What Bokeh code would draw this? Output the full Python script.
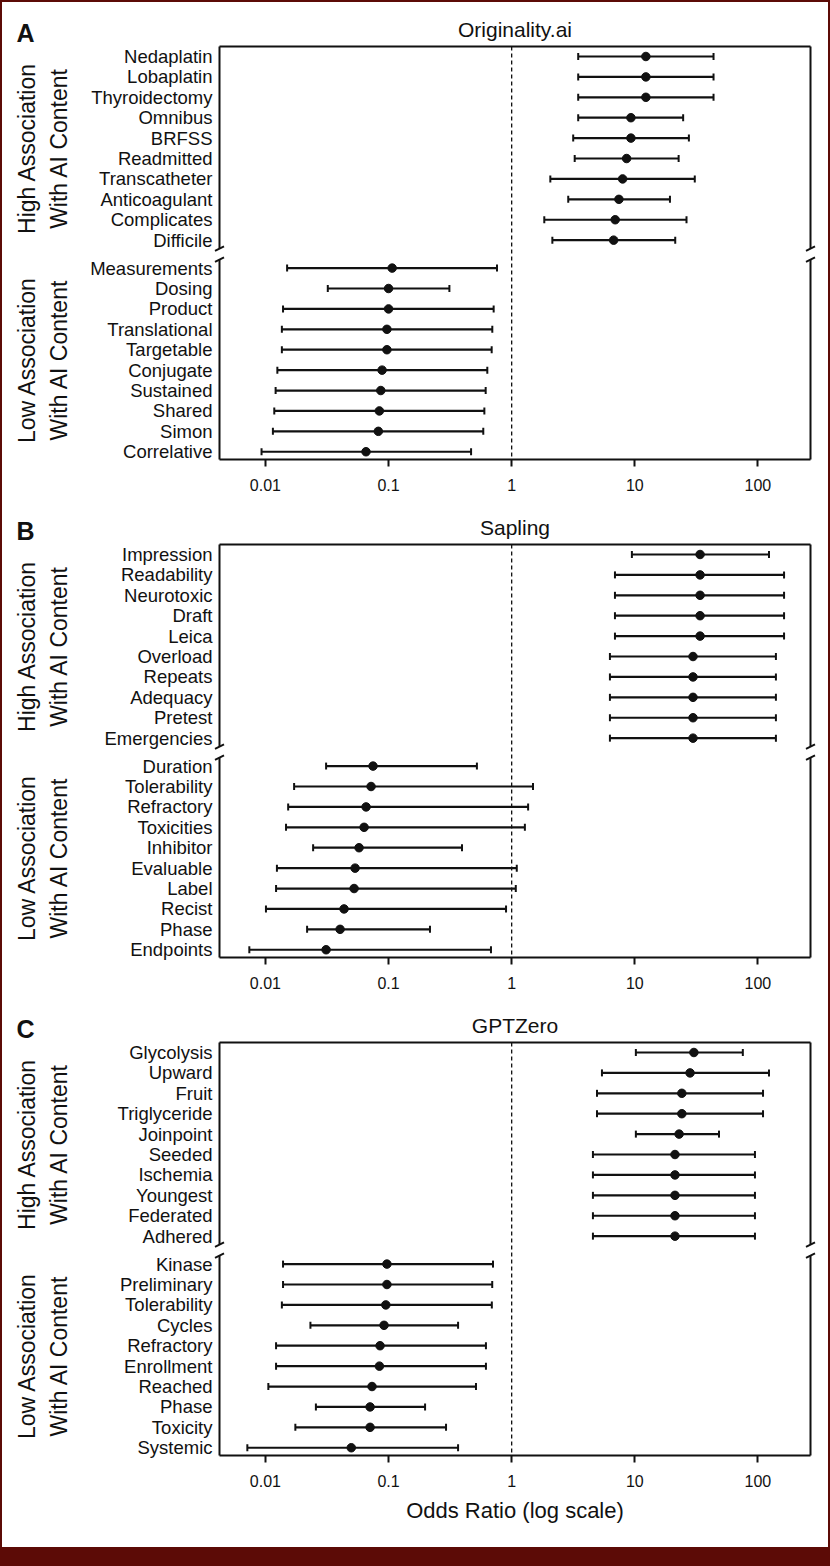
import math
from bokeh.plotting import figure
from bokeh.models import (ColumnDataSource, Range1d, FixedTicker, Whisker, TeeHead)
from bokeh.core.properties import value
from bokeh.layouts import column, row
from bokeh.embed import file_html
from bokeh.resources import INLINE

# ---------------- data ----------------
x_tick_values = [0.01, 0.1, 1, 10, 100]
x_tick_labels = ["0.01", "0.1", "1", "10", "100"]

a_title = "Originality.ai"
a_high_terms = ["Nedaplatin", "Lobaplatin", "Thyroidectomy", "Omnibus", "BRFSS",
                "Readmitted", "Transcatheter", "Anticoagulant", "Complicates", "Difficile"]
a_high_or = [12.3, 12.3, 12.3, 9.3, 9.3, 8.58, 7.96, 7.43, 6.93, 6.73]
a_high_lo = [3.47, 3.47, 3.47, 3.47, 3.16, 3.25, 2.06, 2.88, 1.84, 2.14]
a_high_hi = [43.6, 43.6, 43.6, 24.7, 27.5, 22.7, 30.7, 19.3, 26.3, 21.3]
a_low_terms = ["Measurements", "Dosing", "Product", "Translational", "Targetable",
               "Conjugate", "Sustained", "Shared", "Simon", "Correlative"]
a_low_or = [0.107, 0.100, 0.100, 0.097, 0.097, 0.0886, 0.0865, 0.0842, 0.0826, 0.0656]
a_low_lo = [0.0150, 0.0321, 0.0139, 0.0136, 0.0136, 0.0125, 0.0121, 0.0118, 0.0115, 0.0093]
a_low_hi = [0.76, 0.312, 0.714, 0.696, 0.688, 0.634, 0.615, 0.600, 0.588, 0.468]

b_title = "Sapling"
b_high_terms = ["Impression", "Readability", "Neurotoxic", "Draft", "Leica",
                "Overload", "Repeats", "Adequacy", "Pretest", "Emergencies"]
b_high_or = [33.9, 33.9, 33.9, 33.9, 33.9, 29.7, 29.7, 29.7, 29.7, 29.7]
b_high_lo = [9.47, 6.9, 6.9, 6.9, 6.9, 6.28, 6.28, 6.28, 6.28, 6.28]
b_high_hi = [123, 163, 163, 163, 163, 140, 140, 140, 140, 140]
b_low_terms = ["Duration", "Tolerability", "Refractory", "Toxicities", "Inhibitor",
               "Evaluable", "Label", "Recist", "Phase", "Endpoints"]
b_low_or = [0.0748, 0.0721, 0.0657, 0.0633, 0.0576, 0.0535, 0.0525, 0.0435, 0.0404, 0.0311]
b_low_lo = [0.0311, 0.0171, 0.0153, 0.0147, 0.0244, 0.0124, 0.0122, 0.0101, 0.0218, 0.0074]
b_low_hi = [0.522, 1.49, 1.36, 1.28, 0.395, 1.10, 1.08, 0.90, 0.217, 0.679]

c_title = "GPTZero"
c_high_terms = ["Glycolysis", "Upward", "Fruit", "Triglyceride", "Joinpoint",
                "Seeded", "Ischemia", "Youngest", "Federated", "Adhered"]
c_high_or = [30.2, 28.1, 24.1, 24.1, 22.9, 21.2, 21.2, 21.2, 21.2, 21.2]
c_high_lo = [10.2, 5.41, 4.93, 4.93, 10.2, 4.57, 4.57, 4.57, 4.57, 4.57]
c_high_hi = [75.4, 123, 110, 110, 48.3, 94.6, 94.6, 94.6, 94.6, 94.6]
c_low_terms = ["Kinase", "Preliminary", "Tolerability", "Cycles", "Refractory",
               "Enrollment", "Reached", "Phase", "Toxicity", "Systemic"]
c_low_or = [0.097, 0.097, 0.095, 0.0919, 0.0853, 0.0843, 0.0734, 0.0708, 0.0708, 0.0498]
c_low_lo = [0.0139, 0.0139, 0.0136, 0.0232, 0.0122, 0.0122, 0.01056, 0.0257, 0.0175, 0.00713]
c_low_hi = [0.705, 0.695, 0.690, 0.367, 0.618, 0.618, 0.513, 0.198, 0.293, 0.367]

group_high = ["High Association", "With AI Content"]
group_low = ["Low Association", "With AI Content"]
x_label = "Odds Ratio (log scale)"

# ---------------- styling / geometry ----------------
FONT = "Liberation Sans"
INK = "#111111"
FRAME_COLOR = "#5c0b06"
W_TOTAL = 826          # inside the 2px page frame
W_GROUP = 75           # side strip holding the rotated group labels
W_MAIN = W_TOTAL - W_GROUP
E = 7                  # frame extends E px beyond the drawn box (left/right/bottom)
BOX_L = 219 - 2 - W_GROUP
BOX_W = 591
BOX_TOP = 44           # box top below figure top
BOX_H = 413
LOG_L, LOG_R = -2.373, 2.427
DEC = BOX_W / (LOG_R - LOG_L)
GAP = 1.37
Y_TOP = -0.49
BOT_PAD = 0.38


def make_panel(letter, title, hi_terms, hi_or, hi_lo, hi_hi,
               lo_terms, lo_or, lo_lo, lo_hi, height, with_xlabel=False):
    y_hi = [float(i) for i in range(len(hi_terms))]
    y_lo = [round(y_hi[-1] + GAP + k, 2) for k in range(len(lo_terms))]
    y_bot = y_lo[-1] + BOT_PAD
    row_px = BOX_H / (y_bot - Y_TOP)
    ex_log = E / DEC
    bb = height - BOX_TOP - BOX_H - E

    def ypx(px):  # pixels below figure top -> data y
        return Y_TOP + (px - BOX_TOP) / row_px

    yr = Range1d(y_bot + E / row_px, ypx(0))

    p = figure(width=W_MAIN, height=height, x_axis_type="log",
               x_range=Range1d(10 ** (LOG_L - ex_log), 10 ** (LOG_R + ex_log)),
               y_range=yr, output_backend="svg", toolbar_location=None,
               min_border_left=BOX_L - E,
               min_border_right=W_MAIN - BOX_L - BOX_W - E,
               min_border_top=0, min_border_bottom=bb)
    p.title.visible = False
    p.outline_line_color = None
    p.grid.visible = False
    p.border_fill_color = "white"

    # x axis
    xa = p.xaxis[0]
    xa.ticker = FixedTicker(ticks=x_tick_values)
    xa.major_label_overrides = {v: s for v, s in zip(x_tick_values, x_tick_labels)}
    xa.axis_line_color = None
    xa.minor_tick_line_color = None
    xa.major_tick_in = E
    xa.major_tick_out = 0
    xa.major_tick_line_width = 2
    xa.major_tick_line_color = INK
    xa.major_label_standoff = 12
    xa.major_label_text_font = FONT
    xa.major_label_text_font_size = "16px"
    xa.major_label_text_color = INK
    if with_xlabel:
        xa.axis_label = x_label
        xa.axis_label_text_font = FONT
        xa.axis_label_text_font_size = "22px"
        xa.axis_label_text_font_style = "normal"
        xa.axis_label_text_color = INK
        xa.axis_label_standoff = 8

    # y axis
    ya = p.yaxis[0]
    ya.ticker = FixedTicker(ticks=y_hi + y_lo)
    ya.major_label_overrides = {y: t for y, t in zip(y_hi + y_lo, hi_terms + lo_terms)}
    ya.axis_line_color = None
    ya.major_tick_line_color = None
    ya.minor_tick_line_color = None
    ya.major_tick_in = 0
    ya.major_tick_out = 0
    ya.major_label_standoff = 0
    ya.major_label_text_font = FONT
    ya.major_label_text_font_size = "18.5px"
    ya.major_label_text_color = INK

    # box with axis breaks
    xl, xr = 10 ** LOG_L, 10 ** LOG_R
    ymid = (y_hi[-1] + y_lo[0]) / 2
    b_up, b_dn = ymid - 0.27, ymid + 0.27
    x0s, y0s, x1s, y1s = [xl, xl], [Y_TOP, y_bot], [xr, xr], [Y_TOP, y_bot]
    dxm = 4.5 / DEC
    dym = 2.2 / row_px
    for xe, lg in ((xl, LOG_L), (xr, LOG_R)):
        x0s += [xe, xe]; y0s += [Y_TOP, b_dn]; x1s += [xe, xe]; y1s += [b_up, y_bot]
        for yb in (b_up, b_dn):
            x0s.append(10 ** (lg - dxm)); y0s.append(yb + dym)
            x1s.append(10 ** (lg + dxm)); y1s.append(yb - dym)
    p.segment(x0=x0s, y0=y0s, x1=x1s, y1=y1s, line_width=2, line_color=INK)

    # reference line at OR = 1
    p.segment(x0=[1], y0=[Y_TOP], x1=[1], y1=[y_bot], line_width=1.3,
              line_color=INK, line_dash="4 3")

    for ys, orv, lov, hiv in ((y_hi, hi_or, hi_lo, hi_hi), (y_lo, lo_or, lo_lo, lo_hi)):
        src = ColumnDataSource(dict(y=ys, orv=orv, lo=lov, hi=hiv))
        p.add_layout(Whisker(source=src, base="y", lower="lo", upper="hi",
                             dimension="width", line_width=2.2, line_color=INK,
                             lower_head=TeeHead(size=7, line_width=2, line_color=INK),
                             upper_head=TeeHead(size=7, line_width=2, line_color=INK)))
        p.scatter(x="orv", y="y", source=src, size=8.5, color=INK)

    # panel title, drawn inside the (extended) frame above the box
    xc = 10 ** ((LOG_L + LOG_R) / 2)
    p.text(x=[xc], y=[ypx(27)], text=[title], text_align="center",
           text_baseline="middle", text_font=value(FONT), text_font_size="21px",
           text_color=INK)

    # side strip: panel letter + rotated group labels
    g = figure(width=W_GROUP, height=height, x_range=Range1d(0, W_GROUP),
               y_range=yr, x_axis_location=None, y_axis_location=None,
               output_backend="svg", toolbar_location=None,
               min_border_left=0, min_border_right=0, min_border_top=0,
               min_border_bottom=bb)
    g.title.visible = False
    g.outline_line_color = None
    g.grid.visible = False
    g.border_fill_color = "white"
    gx, gy, gt = [], [], []
    for ys, lines in ((y_hi, group_high), (y_lo, group_low)):
        yc = (ys[0] + ys[-1]) / 2
        for xpx, t in zip((24, 56), lines):
            gx.append(xpx); gy.append(yc); gt.append(t)
    g.text(x=gx, y=gy, text=gt, angle=math.pi / 2, text_align="center",
           text_baseline="middle", text_font=value(FONT), text_font_size="23px",
           text_color=INK)
    g.text(x=[23], y=[ypx(30)], text=[letter], text_align="center",
           text_baseline="middle", text_font=value(FONT), text_font_size="25px",
           text_font_style="bold", text_color=INK)
    return row(g, p, spacing=0)


pa = make_panel("A", a_title, a_high_terms, a_high_or, a_high_lo, a_high_hi,
                a_low_terms, a_low_or, a_low_lo, a_low_hi, 498)
pb = make_panel("B", b_title, b_high_terms, b_high_or, b_high_lo, b_high_hi,
                b_low_terms, b_low_or, b_low_lo, b_low_hi, 498)
pc = make_panel("C", c_title, c_high_terms, c_high_or, c_high_lo, c_high_hi,
                c_low_terms, c_low_or, c_low_lo, c_low_hi, 549, with_xlabel=True)

layout = column(pa, pb, pc, spacing=0,
                styles={"border-left": f"2px solid {FRAME_COLOR}",
                        "border-right": f"2px solid {FRAME_COLOR}",
                        "border-top": f"2px solid {FRAME_COLOR}",
                        "border-bottom": f"19px solid {FRAME_COLOR}"})

open("out.html", "w").write(file_html(layout, INLINE))
